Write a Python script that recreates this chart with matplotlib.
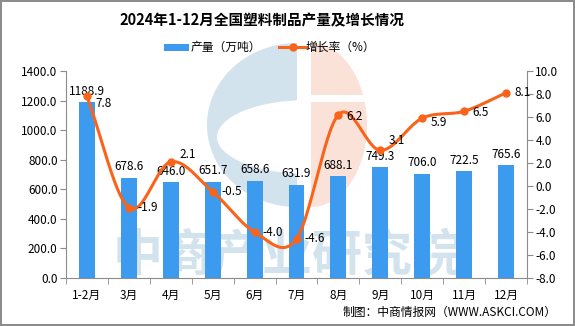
import numpy as np
import matplotlib
matplotlib.use("Agg")
import matplotlib.pyplot as plt
from matplotlib.patches import Polygon, Rectangle, Ellipse

plt.rcParams['font.family'] = ['Noto Sans CJK SC', 'DejaVu Sans']
plt.rcParams['axes.unicode_minus'] = False

months = ["1-2月", "3月", "4月", "5月", "6月", "7月", "8月", "9月", "10月", "11月", "12月"]
output = [1188.9, 678.6, 646.0, 651.7, 658.6, 631.9, 688.1, 749.3, 706.0, 722.5, 765.6]
growth = [7.8, -1.9, 2.1, -0.5, -4.0, -4.6, 6.2, 3.1, 5.9, 6.5, 8.1]

BAR = "#3d9bef"
LINE = "#f9631a"
W, H = 575, 326


def smooth(xs, ys, n=24):
    # Catmull-Rom curve through the points
    pts = np.column_stack([xs, ys])
    pad = np.vstack([2 * pts[0] - pts[1], pts, 2 * pts[-1] - pts[-2]])
    t = np.linspace(0, 1, n, endpoint=False)[:, None]
    segs = []
    for i in range(len(pts) - 1):
        p0, p1, p2, p3 = pad[i:i + 4]
        segs.append(0.5 * (2 * p1 + (-p0 + p2) * t
                           + (2 * p0 - 5 * p1 + 4 * p2 - p3) * t ** 2
                           + (-p0 + 3 * p1 - 3 * p2 + p3) * t ** 3))
    segs.append(pts[-1:])
    out = np.vstack(segs)
    return out[:, 0], out[:, 1]


fig = plt.figure(figsize=(W / 100, H / 100), dpi=100)
fig.patch.set_edgecolor("#8c8c8c")
fig.patch.set_linewidth(1.5)

# background logo and watermark, in pixel coordinates
bg = fig.add_axes([0, 0, 1, 1], zorder=0)
bg.set_xlim(0, W)
bg.set_ylim(H, 0)
bg.axis("off")
cx, cy, rx, ry = 297, 125, 90, 82
th = np.linspace(np.pi / 2, 3 * np.pi / 2, 80)
bg.add_patch(Polygon(np.column_stack([cx + rx * np.cos(th), cy - ry * np.sin(th)]),
                     closed=True, fc="#d3e3ee", ec="none"))
bg.add_patch(Ellipse((308, 137), 182, 74, fc="white", ec="none"))
th = np.linspace(-np.pi / 2, np.pi / 2, 80)
rxs = 56
bg.add_patch(Polygon(np.column_stack([311 + rxs * np.cos(th), cy - ry * np.sin(th)]),
                     closed=True, fc="#fbe2d8", ec="none"))
bg.add_patch(Rectangle((305, 95), 80, 7, fc="white", ec="none"))
bg.text(288, 257, "中商产业研究院", ha="center", va="center", fontsize=36,
        fontweight="bold", color="#d3e3ee")

ax = fig.add_axes([66 / W, 1 - 278 / H, 461 / W, 207 / H], zorder=1)
ax.set_facecolor("none")
x = np.arange(len(months))
ax.bar(x, output, width=0.38, color=BAR, zorder=2)
for xi, v in zip(x, output):
    ax.annotate(f"{v:.1f}", (xi, v), xytext=(0, 3), textcoords="offset points",
                ha="center", va="bottom", fontsize=8.5, color="black")

ax.set_xlim(-0.5, len(months) - 0.5)
ax.set_ylim(0, 1400)
ax.set_yticks(np.arange(0, 1401, 200))
ax.set_yticklabels([f"{v:.1f}" for v in np.arange(0, 1401, 200)])
ax.set_xticks(x)
ax.set_xticklabels(months)
ax.set_xticks(np.arange(-0.5, len(months), 1), minor=True)
ax.tick_params(axis="x", which="major", length=0, pad=8, labelsize=8.5)
ax.tick_params(axis="x", which="minor", length=4, color="#8c8c8c", direction="out")
ax.tick_params(axis="y", length=4, color="#8c8c8c", labelsize=8.5, pad=2)
for s in ["top", "right"]:
    ax.spines[s].set_visible(False)
for s in ["left", "bottom"]:
    ax.spines[s].set_color("#8c8c8c")

ax2 = ax.twinx()
ax2.set_ylim(-8, 10)
ax2.set_yticks(np.arange(-8, 10.1, 2))
ax2.set_yticklabels([f"{v:.1f}" for v in np.arange(-8, 10.1, 2)])
ax2.tick_params(axis="y", length=4, color="#8c8c8c", labelsize=8.5, pad=2)
for s in ["top", "left", "bottom"]:
    ax2.spines[s].set_visible(False)
ax2.spines["right"].set_color("#8c8c8c")

# smooth the curve in screen-proportional units
k = (207 / 18) / (461 / len(months))
sx, sy = smooth(x, np.array(growth) * k)
ax2.plot(sx, sy / k, color=LINE, lw=2.2, zorder=3)
ax2.plot(x, growth, "o", color=LINE, ms=5, zorder=4)
lift = [-5, 0, 5, 0, 0, 0, -1, 7, -3, -1, 0]
for xi, g, dy in zip(x, growth, lift):
    ax2.annotate(f"{g:.1f}", (xi, g), xytext=(6, dy), textcoords="offset points",
                 ha="left", va="center", fontsize=8.5, color="black")

fig.text(262 / W, 1 - 20 / H, "2024年1-12月全国塑料制品产量及增长情况",
         ha="center", va="center", fontsize=10.5, fontweight="bold")

# legend
lx = fig.add_axes([0, 0, 1, 1], zorder=2)
lx.set_xlim(0, W)
lx.set_ylim(H, 0)
lx.axis("off")
lx.add_patch(Rectangle((164, 43.5), 25, 7, fc=BAR, ec="none"))
lx.text(191, 47, "产量（万吨）", va="center", ha="left", fontsize=8.5)
lx.plot([279, 306], [47, 47], color=LINE, lw=2.2)
lx.plot([292.5], [47], "o", color=LINE, ms=5)
lx.text(306, 47, "增长率（%）", va="center", ha="left", fontsize=8.5)
lx.text(557, 312, "制图：中商情报网（WWW.ASKCI.COM）", va="center", ha="right",
        fontsize=8.5)

fig.savefig("out.png", dpi=100)
